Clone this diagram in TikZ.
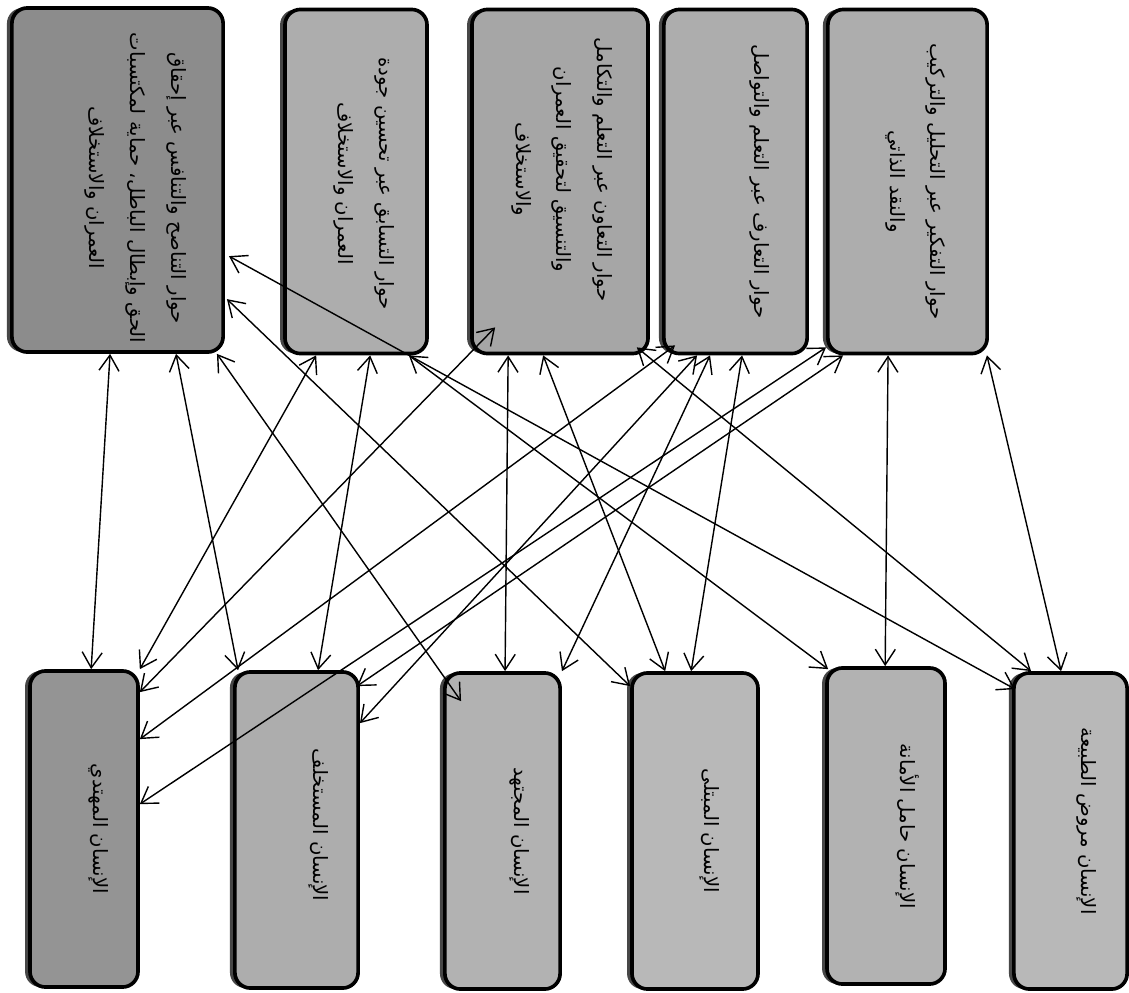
\documentclass[tikz,border=0pt]{standalone}
\usepackage{fontspec}
\usepackage{graphicx,xcolor}
\usepackage{tikz}
\newfontfamily\arabicfont[Script=Arabic]{DejaVu Sans}
\TeXXeTstate=1
\usetikzlibrary{positioning,calc,shadows,arrows.meta}
\newcommand{\rl}[1]{\beginR #1\endR}

\begin{document}
\begin{tikzpicture}[x=0.025cm, y=-0.025cm, <->, >={Straight Barb[length=3.9mm,width=5mm]}, line width=1pt,
  hbox/.style={draw=black, line width=2.6pt, rounded corners=11pt, fill=#1, inner sep=0pt,
    drop shadow={shadow xshift=-3.5pt, shadow yshift=0pt, fill=black!80, opacity=0.9}},
  dlg/.style={hbox=#1, minimum height=8.6cm},
  hum/.style={hbox=#1, minimum height=7.9cm},
  txt/.style={rotate=-90, align=center, font=\arabicfont\fontsize{14}{29}\selectfont}]
  \useasboundingbox (0,0) rectangle (1129,992);
  % dialogues
  \node[dlg=black!45, minimum width=5.28cm] (t1) at (117.5,180) {};
  \node[dlg=black!32, minimum width=3.55cm] (t2) at (356,181.5) {};
  \node[dlg=black!35, minimum width=4.4cm] (t3) at (560,181.5) {};
  \node[dlg=black!32, minimum width=3.58cm] (t4) at (735.5,181.5) {};
  \node[dlg=black!32, minimum width=3.98cm] (t5) at (907.5,181.5) {};
  \node[txt] (t1l) at ($(t1)+(18,8)$) {\rl{حوار التناصح والتنافس عبر إحقاق}\\\rl{الحق وإبطال الباطل، حماية لمكتسبات}\\\rl{العمران والاستخلاف}};
  \node[txt] (t2l) at ($(t2)+(8,2)$) {\rl{حوار التسابق عبر تحسين جودة}\\\rl{العمران والاستخلاف}};
  \node[txt] (t3l) at ($(t3)+(2,-12)$) {\rl{حوار التعاون عبر التعلم والتكامل}\\\rl{والتنسيق لتحقيق العمران}\\\rl{والاستخلاف}};
  \node[txt] (t4l) at ($(t4)+(24,0)$) {\rl{حوار التعارف عبر التعلم والتواصل}};
  \node[txt] (t5l) at ($(t5)+(8,0)$) {\rl{حوار التفكير عبر التحليل والتركيب}\\\rl{والنقد الذاتي}};
  % humans
  \node[hum=black!42, minimum width=2.7cm] (b1) at (84,829) {};
  \node[hum=black!32, minimum width=3.08cm] (b2) at (296.5,830) {};
  \node[hum=black!30, minimum width=2.88cm] (b3) at (502.5,831) {};
  \node[hum=black!28, minimum width=3.15cm] (b4) at (695,831) {};
  \node[hum=black!30, minimum width=2.95cm] (b5) at (886,826) {};
  \node[hum=black!28, minimum width=2.83cm] (b6) at (1070.5,831) {};
  \node[txt] (b1l) at ($(b1)+(15,0)$) {\rl{الإنسان المهتدي}};
  \node[txt] (b2l) at ($(b2)+(22,-5)$) {\rl{الإنسان المستخلف}};
  \node[txt] (b3l) at ($(b3)+(17,0)$) {\rl{الإنسان المجتهد}};
  \node[txt] (b4l) at ($(b4)+(15,0)$) {\rl{الإنسان المبتلى}};
  \node[txt] (b5l) at ($(b5)+(21,0)$) {\rl{الإنسان حامل الأمانة}};
  \node[txt] (b6l) at ($(b6)+(16,-10)$) {\rl{الإنسان مروض الطبيعة}};
  % links
  \path ($(t1.south west)+(100,0)$) edge ($(b1.north west)+(63,0)$)
    ($(t2.south west)+(33,0)$) edge (b1.north east)
    ($(t3.south west)+(25,-28)$) edge ($(b1.north east)+(0,23)$)
    ($(t4.south west)+(13,-10)$) edge ($(b1.north east)+(0,70)$)
    ($(t5.south west)+(0,-8)$) edge ($(b1.north east)+(0,135)$);
  \path ($(t1.south west)+(166,0)$) edge ($(b2.north west)+(5,0)$)
    ($(t2.south west)+(87,0)$) edge ($(b2.north west)+(85,0)$)
    ($(t5.south west)+(17,0)$) edge ($(b2.north east)+(-3,16)$)
    ($(t4.south west)+(35,0)$) edge ($(b2.north east)+(0,53)$);
  \path ($(t1.south east)+(-8,0)$) edge ($(b3.north west)+(18,30)$)
    ($(t3.south west)+(38,0)$) edge ($(b3.north west)+(62,0)$)
    ($(t4.south west)+(48,0)$) edge (b3.north east);
  \path ($(t1.north east)+(2,293)$) edge ($(b4.north west)+(0,15)$)
    ($(t3.south west)+(73,0)$) edge ($(b4.north west)+(35,0)$)
    ($(t4.south west)+(80,0)$) edge ($(b4.north west)+(61,0)$);
  \path ($(t2.south east)+(-20,0)$) edge ($(b5.north west)+(3,3)$)
    ($(t5.south west)+(62,0)$) edge ($(b5.north west)+(60,0)$);
  \path ($(t1.north east)+(4,250)$) edge ($(b6.north west)+(3,18)$)
    ($(t3.south east)+(-13,-8)$) edge ($(b6.north west)+(19,0)$)
    ($(t5.south east)+(-2,0)$) edge ($(b6.north west)+(49,0)$);
\end{tikzpicture}
\end{document}
